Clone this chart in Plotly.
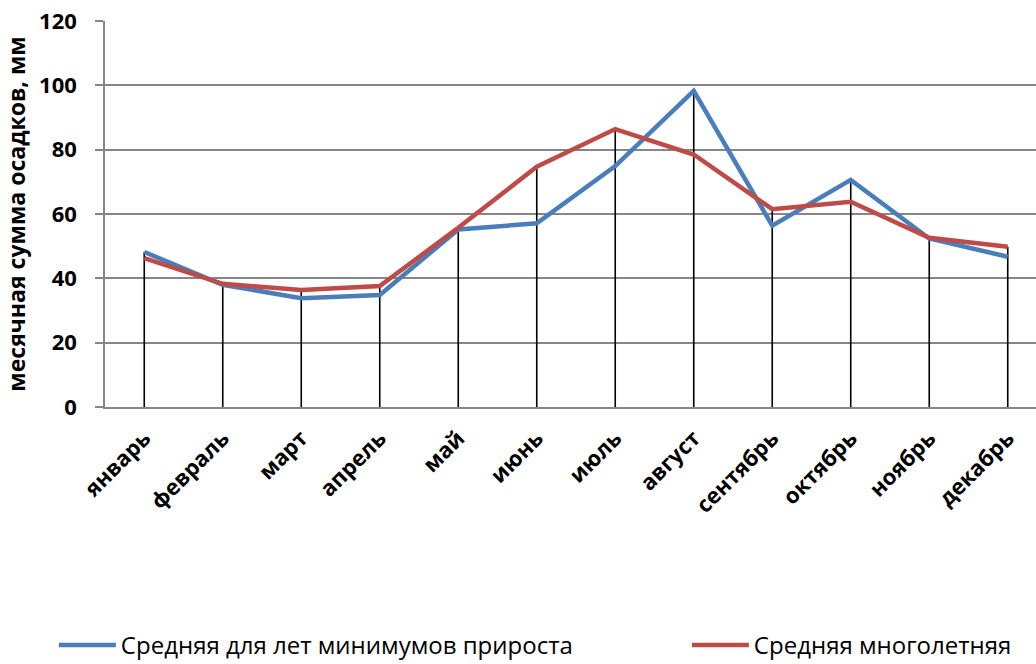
import plotly.graph_objects as go

# Monthly precipitation sums, mm
months = ["январь", "февраль", "март", "апрель", "май", "июнь",
          "июль", "август", "сентябрь", "октябрь", "ноябрь", "декабрь"]
min_growth_years = [48.2, 38.0, 33.8, 34.8, 55.2, 57.1, 74.9, 98.3, 56.4, 70.6, 52.4, 46.7]
long_term_mean = [46.3, 38.3, 36.4, 37.6, 55.7, 74.7, 86.4, 78.5, 61.5, 63.8, 52.6, 49.8]
y_ticks = [0, 20, 40, 60, 80, 100, 120]

series_names = ["Средняя для лет минимумов прироста", "Средняя многолетняя"]
series_colors = ["#4A7EBB", "#BE4B48"]
legend_ids = ["legend", "legend2"]

# Drop lines from the higher of the two series down to the axis
drop_x, drop_y = [], []
for m, a, b in zip(months, min_growth_years, long_term_mean):
    drop_x += [m, m, None]
    drop_y += [0, max(a, b), None]

fig = go.Figure()
fig.add_trace(go.Scatter(x=drop_x, y=drop_y, mode="lines",
                         line=dict(color="black", width=1.6),
                         showlegend=False, hoverinfo="skip"))
for name, vals, col, lg in zip(series_names, [min_growth_years, long_term_mean],
                               series_colors, legend_ids):
    fig.add_trace(go.Scatter(x=months, y=vals, name=name, mode="lines",
                             line=dict(color=col, width=4.5), legend=lg))

legend_font = dict(size=24, family="Open Sans", color="black")
common_legend = dict(orientation="h", xref="container", yref="container",
                     y=0.028, xanchor="left", yanchor="middle",
                     font=legend_font, itemwidth=57,
                     bgcolor="rgba(0,0,0,0)")

fig.update_layout(
    width=1036, height=664,
    margin=dict(l=105, r=0, t=21, b=257),
    plot_bgcolor="white", paper_bgcolor="white",
    font=dict(family="Open Sans", color="black"),
    legend=dict(x=0.052, **common_legend),
    legend2=dict(x=0.663, **common_legend),
    showlegend=True,
)
fig.update_xaxes(
    type="category", categoryorder="array", categoryarray=months,
    range=[-0.5, 11.36], tickangle=-45, ticklabelstandoff=8,
    tickfont=dict(size=22, family="Open Sans", color="black", weight="bold"),
    showline=True, linecolor="#868686", linewidth=1.5,
    showgrid=False, ticks="", zeroline=False,
)
fig.update_yaxes(
    range=[0, 120], tickvals=y_ticks, ticklabelstandoff=14,
    tickfont=dict(size=22, family="Open Sans", color="black", weight="bold"),
    showline=True, linecolor="#868686", linewidth=1.5,
    gridcolor="#868686", gridwidth=1.5,
    ticks="outside", ticklen=8, tickcolor="#868686", tickwidth=1.5,
    zeroline=False,
    title=dict(text="месячная сумма осадков, мм", standoff=10,
               font=dict(size=23, family="Open Sans", color="black", weight="bold")),
)

fig.write_html("out.html")
